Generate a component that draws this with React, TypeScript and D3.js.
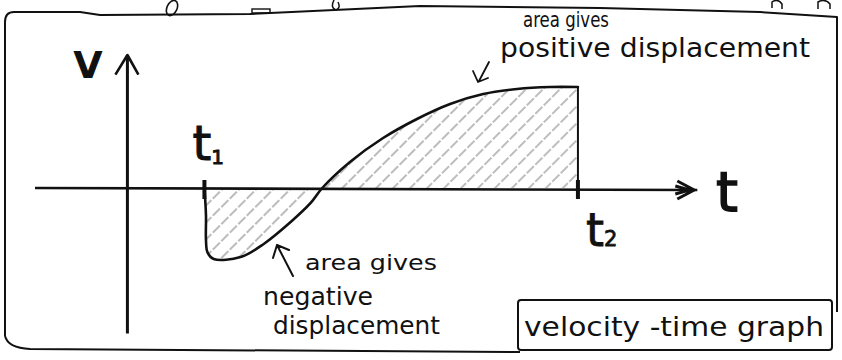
import React from "react";
import * as d3 from "d3";

// Velocity–time curve between t1 and t2 (time in s, velocity in m/s)
const times = [1.0, 1.02, 1.02, 1.04, 1.12, 1.47, 1.77, 2.12, 2.38, 2.53, 2.89, 3.32, 3.76, 4.19, 4.62, 5.06, 5.49, 5.85];
const velocities = [0, -1.93, -3.7, -4.6, -5.07, -4.93, -4.0, -2.43, -1.07, 0, 1.86, 3.57, 4.93, 6.0, 6.71, 7.07, 7.21, 7.21];

// Marked instants on the time axis
const tickTimes = [1.0, 5.85];
const tickNames = ["1", "2"];

const axisLabelV = "V";
const axisLabelT = "t";
const positiveNote = ["area gives", "positive displacement"];
const negativeNote = ["area gives", "negative", "displacement"];
const caption = "velocity -time graph";

const W = 842;
const H = 360;
const FONT = "'DejaVu Sans', 'Noto Sans', sans-serif";

export default function App() {
  const x = d3.scaleLinear().domain([-1.2, 7.5]).range([35, 705]);
  const y = d3.scaleLinear().domain([-10, 9.5]).range([328, 55]);

  const pts: [number, number][] = times.map((t, i) => [t, velocities[i]]);
  const line = d3
    .line<[number, number]>()
    .x((d) => x(d[0]))
    .y((d) => y(d[1]))
    .curve(d3.curveCatmullRom.alpha(0.5));

  const curvePath = line(pts) || "";
  const tEnd = times[times.length - 1];
  const vEnd = velocities[velocities.length - 1];
  // Closed region between the curve and the time axis
  const areaPath = `${curvePath}L${x(tEnd)},${y(0)}L${x(times[0])},${y(0)}Z`;

  const x0 = x(0);
  const y0 = y(0);
  const axisRight = x(7.4);

  return (
    <svg width={W} height={H} style={{ display: "block", position: "absolute", left: 0, top: 0 }}>
      <defs>
        <pattern id="hatch" width="12" height="12" patternUnits="userSpaceOnUse" patternTransform="rotate(-45)">
          <line x1="0" y1="3" x2="12" y2="3" stroke="#7a7a7a" strokeWidth="1" strokeDasharray="8 2 3 3" />
        </pattern>
        <clipPath id="areaClip">
          <path d={areaPath} />
        </clipPath>
      </defs>
      <rect width={W} height={H} fill="#fff" />

      {/* outer sheet border */}
      <path
        d="M5,336 L5,22 Q5,12 14,12 L80,12 L100,15 L250,14 L420,6 L600,8 L760,12 L837,17 L837,312 M5,336 Q8,348 30,349 L520,352"
        fill="none"
        stroke="#111"
        strokeWidth={2}
        strokeLinejoin="round"
      />
      {/* cut-off strokes along the top edge */}
      <ellipse cx={172} cy={8} rx={5} ry={8} transform="rotate(25 172 8)" fill="none" stroke="#111" strokeWidth={1.6} />
      <rect x={252} y={9} width={18} height={4} fill="none" stroke="#111" strokeWidth={1.4} />
      <path d="M334,0 Q330,8 336,10 Q341,8 338,2" fill="none" stroke="#111" strokeWidth={1.5} />
      <path d="M772,8 L772,2 Q778,-2 782,4 L782,9 M818,9 L818,2 Q825,-2 830,4 L830,9" fill="none" stroke="#111" strokeWidth={1.5} />

      {/* hatched areas */}
      <rect x={x(times[0]) - 5} y={y(8)} width={x(tEnd) - x(times[0]) + 10} height={y(-6) - y(8)} fill="url(#hatch)" clipPath="url(#areaClip)" />

      {/* time axis */}
      <line x1={x(-1.2)} y1={y0} x2={axisRight} y2={y0 + 2} stroke="#111" strokeWidth={2.6} />
      <path
        d={`M${axisRight - 20},${y0 - 7} L${axisRight - 3},${y0 + 2} L${axisRight - 20},${y0 + 11} M${axisRight - 22},${y0 - 2} L${axisRight - 8},${y0 + 2} L${axisRight - 22},${y0 + 6}`}
        fill="none"
        stroke="#111"
        strokeWidth={3}
        strokeLinejoin="round"
      />

      {/* velocity axis */}
      <line x1={x0} y1={y(-10.4)} x2={x0} y2={y(9.5)} stroke="#111" strokeWidth={3} />
      <path d={`M${x0 - 12},${y(8.1)} L${x0},${y(9.5)} L${x0 + 11},${y(8.1)}`} fill="none" stroke="#111" strokeWidth={2.6} strokeLinejoin="round" />

      {/* ticks at t1 and t2 */}
      {tickTimes.map((t, i) => (
        <line key={i} x1={x(t)} y1={y0 - 8} x2={x(t)} y2={y0 + 11} stroke="#111" strokeWidth={4} />
      ))}

      {/* the curve and the closing edge at t2 */}
      <path d={curvePath} fill="none" stroke="#111" strokeWidth={2.6} strokeLinecap="round" strokeLinejoin="round" />
      <line x1={x(tEnd)} y1={y(vEnd)} x2={x(tEnd)} y2={y0} stroke="#111" strokeWidth={2} />

      {/* axis names */}
      <text x={88} y={78} fontFamily={FONT} fontSize={38} fontWeight="bold" textAnchor="middle" fill="#111">
        {axisLabelV}
      </text>
      <text x={727} y={211} fontFamily={FONT} fontSize={56} textAnchor="middle" fill="#111" stroke="#111" strokeWidth={1.5}>
        {axisLabelT}
      </text>

      {/* t1 / t2 labels */}
      <text x={x(tickTimes[0]) - 12} y={160} fontFamily={FONT} fontSize={48} fill="#111" stroke="#111" strokeWidth={1}>
        {axisLabelT}
        <tspan fontSize={20} dy={4}>{tickNames[0]}</tspan>
      </text>
      <text x={x(tickTimes[1]) + 8} y={246} fontFamily={FONT} fontSize={46} fill="#111" stroke="#111" strokeWidth={0.8}>
        {axisLabelT}
        <tspan fontSize={21} dy={0}>{tickNames[1]}</tspan>
      </text>

      {/* positive displacement note */}
      <text x={523} y={27} fontFamily={FONT} fontSize={21} textLength={86} lengthAdjust="spacingAndGlyphs" fill="#111">
        {positiveNote[0]}
      </text>
      <text x={500} y={57} fontFamily={FONT} fontSize={26} textLength={310} lengthAdjust="spacingAndGlyphs" fill="#111">
        {positiveNote[1]}
      </text>
      <path d="M489,62 L479,81 M473,71 L478,82 L488,78" fill="none" stroke="#111" strokeWidth={1.8} strokeLinecap="round" strokeLinejoin="round" />

      {/* negative displacement note */}
      <path d="M293,276 L277,245 M273,258 L277,245 L289,250" fill="none" stroke="#111" strokeWidth={2} strokeLinecap="round" strokeLinejoin="round" />
      <text x={305} y={270} fontFamily={FONT} fontSize={22} textLength={132} lengthAdjust="spacingAndGlyphs" fill="#111">
        {negativeNote[0]}
      </text>
      <text x={263} y={305} fontFamily={FONT} fontSize={24} textLength={110} lengthAdjust="spacingAndGlyphs" fill="#111">
        {negativeNote[1]}
      </text>
      <text x={273} y={334} fontFamily={FONT} fontSize={24} textLength={167} lengthAdjust="spacingAndGlyphs" fill="#111">
        {negativeNote[2]}
      </text>

      {/* caption box */}
      <rect x={518} y={300} width={314} height={50} rx={3} fill="none" stroke="#111" strokeWidth={2} />
      <text x={524} y={336} fontFamily={FONT} fontSize={27} textLength={300} lengthAdjust="spacingAndGlyphs" fill="#111">
        {caption}
      </text>
    </svg>
  );
}
